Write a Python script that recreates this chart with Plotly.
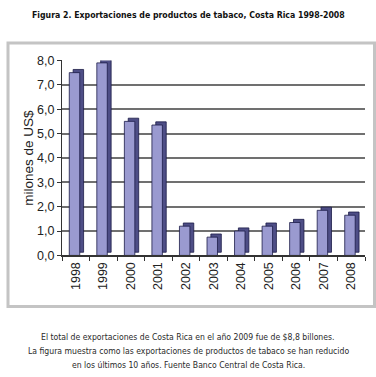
import plotly.graph_objects as go

years = ["1998", "1999", "2000", "2001", "2002", "2003", "2004", "2005", "2006", "2007", "2008"]
values = [7.5, 7.9, 5.5, 5.35, 1.2, 0.75, 1.0, 1.2, 1.35, 1.85, 1.65]
y_ticks = [0, 1, 2, 3, 4, 5, 6, 7, 8]

title_text = "<b>Figura 2. Exportaciones de productos de tabaco, Costa Rica 1998-2008</b>"
caption_lines = [
    "El total de exportaciones de Costa Rica en el año 2009 fue de $8,8 billones.",
    "La figura muestra como las exportaciones de productos de tabaco se han reducido",
    "en los últimos 10 años. Fuente Banco Central de Costa Rica.",
]
y_title = "milones de US$"

W, H = 376, 377
depth_x = 0.14
depth_y = 0.13
bar_w = 0.38
front_off = -0.236

narrow = "DejaVu Sans Condensed, Liberation Sans Narrow, sans-serif"


def px(x):
    return x / W


def py(y):
    return 1 - y / H


fig = go.Figure()
# depth (side/top) of pseudo-3D bars
fig.add_trace(go.Bar(
    x=years, y=values, base=[depth_y] * len(values),
    width=bar_w, offset=front_off + depth_x,
    marker=dict(color="#4e4e86", line=dict(color="#1c1c48", width=0.8)),
    hoverinfo="skip", showlegend=False,
))
fig.add_trace(go.Bar(
    x=years, y=values,
    width=bar_w, offset=front_off,
    marker=dict(color="#9a9ad0", line=dict(color="#1c1c48", width=0.8)),
    showlegend=False,
))

annotations = [
    dict(text=title_text, xref="paper", yref="paper", x=0.5, y=py(8),
         showarrow=False, xanchor="center", yanchor="middle",
         font=dict(family=narrow, size=8.7, color="#111")),
    dict(text=y_title, xref="paper", yref="paper", x=px(28.5), y=py(157),
         showarrow=False, xanchor="center", yanchor="middle", textangle=-90,
         font=dict(family="Liberation Sans, Arial, sans-serif", size=13.5, color="#222")),
]
for i, line in enumerate(caption_lines):
    annotations.append(dict(
        text=line, xref="paper", yref="paper", x=0.5, y=py(343 + 14.5 * i),
        showarrow=False, xanchor="center", yanchor="middle",
        font=dict(family=narrow, size=8.6, color="#2a2a2a")))

fig.update_layout(
    width=W, height=H,
    margin=dict(l=0, r=0, t=0, b=0),
    paper_bgcolor="white", plot_bgcolor="white",
    barmode="overlay",
    separators=",.",
    font=dict(family="Liberation Sans, Arial, sans-serif", color="#222"),
    xaxis=dict(
        domain=[px(62), px(365)],
        type="category",
        tickangle=-90,
        tickfont=dict(size=12.5, color="#222"),
        showline=True, linecolor="#333", linewidth=1.5,
        ticks="outside", tickson="boundaries", ticklen=4, tickcolor="#333",
        showgrid=False,
    ),
    yaxis=dict(
        domain=[py(258), py(55.5)],
        range=[0, 8.0],
        tickvals=y_ticks,
        tickformat=".1f",
        tickfont=dict(size=12.5, color="#222"),
        showline=True, linecolor="#333", linewidth=1.2,
        ticks="outside", ticklen=4, tickcolor="#333",
        showgrid=True, gridcolor="#707070", gridwidth=1.7,
        zeroline=False,
    ),
    shapes=[
        dict(type="rect", xref="paper", yref="paper",
             x0=px(8), x1=px(374.5), y0=py(311), y1=py(37.5),
             line=dict(color="#c4c4c4", width=3), fillcolor="rgba(0,0,0,0)", layer="below"),
    ],
    annotations=annotations,
)

fig.write_html("out.html",
               config={"displayModeBar": False},
               post_script="document.body.style.margin='0';document.body.style.overflow='hidden';")
